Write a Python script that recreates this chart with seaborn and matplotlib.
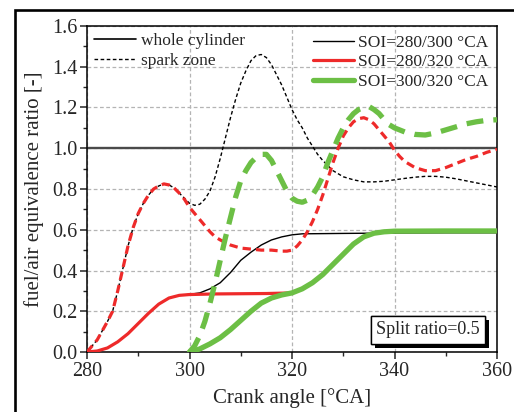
import pandas as pd
import matplotlib
matplotlib.use("Agg")
import matplotlib.pyplot as plt
import matplotlib.patheffects as pe
from matplotlib.lines import Line2D
from matplotlib.patches import Rectangle
from matplotlib.ticker import MultipleLocator, FormatStrFormatter
import seaborn as sns

# spark zone, SOI=280/300
ca_spark_a = [280, 282, 284, 285, 286, 287, 288, 289, 290, 291, 292, 293, 294, 295, 296, 297, 298, 299,
              300, 301, 302, 303, 304, 305, 306, 307, 308, 309, 310, 311, 312, 313, 314, 315, 316, 317,
              318, 319, 320, 321, 322, 323, 324, 325, 326, 327, 328, 330, 332, 334, 336, 338, 340, 342,
              344, 346, 348, 350, 352, 354, 356, 358, 360]
phi_spark_a = [0.0, 0.06, 0.15, 0.2, 0.3, 0.41, 0.52, 0.61, 0.68, 0.73, 0.77, 0.8, 0.815, 0.825, 0.82, 0.805, 0.78, 0.755,
               0.73, 0.72, 0.725, 0.75, 0.79, 0.86, 0.95, 1.05, 1.15, 1.24, 1.32, 1.38, 1.43, 1.455, 1.46, 1.445, 1.41, 1.36,
               1.31, 1.25, 1.19, 1.14, 1.1, 1.05, 1.01, 0.97, 0.94, 0.915, 0.89, 0.86, 0.845, 0.835, 0.835, 0.838, 0.845, 0.852,
               0.858, 0.862, 0.862, 0.858, 0.85, 0.84, 0.83, 0.82, 0.81]

# spark zone, SOI=280/320
ca_spark_b = [280, 282, 284, 285, 286, 287, 288, 289, 290, 291, 292, 293, 294, 295, 296, 297, 298, 299,
              300, 301, 302, 303, 304, 305, 306, 308, 310, 312, 314, 316, 318, 319, 320, 321, 322, 323,
              324, 325, 326, 327, 328, 329, 330, 331, 332, 333, 334, 335, 336, 337, 338, 339, 340, 341,
              342, 344, 346, 348, 350, 352, 354, 356, 358, 360]
phi_spark_b = [0.0, 0.06, 0.15, 0.2, 0.3, 0.41, 0.52, 0.61, 0.68, 0.73, 0.77, 0.8, 0.815, 0.825, 0.82, 0.805, 0.78, 0.75,
               0.71, 0.68, 0.65, 0.62, 0.59, 0.565, 0.55, 0.525, 0.51, 0.505, 0.5, 0.5, 0.495, 0.495, 0.5, 0.52, 0.55, 0.59,
               0.64, 0.7, 0.77, 0.85, 0.93, 1.0, 1.06, 1.1, 1.13, 1.145, 1.15, 1.14, 1.12, 1.09, 1.06, 1.03, 0.99, 0.96,
               0.935, 0.905, 0.89, 0.89, 0.905, 0.925, 0.945, 0.96, 0.98, 0.995]

# spark zone, SOI=300/320
ca_spark_c = [300, 301, 302, 303, 304, 305, 306, 307, 308, 309, 310, 311, 312, 313, 314, 315, 316, 317,
              318, 319, 320, 321, 322, 323, 324, 325, 326, 327, 328, 329, 330, 331, 332, 333, 334, 335,
              336, 337, 338, 339, 340, 342, 344, 346, 348, 350, 352, 354, 356, 358, 360]
phi_spark_c = [0.0, 0.03, 0.08, 0.15, 0.24, 0.34, 0.45, 0.56, 0.66, 0.76, 0.84, 0.89, 0.93, 0.955, 0.97, 0.97, 0.94, 0.89,
               0.84, 0.79, 0.755, 0.74, 0.735, 0.745, 0.77, 0.81, 0.86, 0.93, 0.99, 1.05, 1.1, 1.14, 1.17, 1.19, 1.2, 1.205,
               1.19, 1.17, 1.14, 1.115, 1.1, 1.08, 1.068, 1.065, 1.075, 1.09, 1.105, 1.12, 1.13, 1.137, 1.14]

# whole cylinder
ca_cyl_a = [280, 282, 284, 286, 288, 290, 292, 294, 296, 298, 300, 302, 304, 306, 308, 310, 312, 314,
            316, 318, 320, 322, 330, 340, 350, 360]
phi_cyl_a = [0.0, 0.005, 0.02, 0.05, 0.09, 0.14, 0.19, 0.235, 0.265, 0.278, 0.283, 0.29, 0.31, 0.34, 0.39, 0.45, 0.49, 0.525,
             0.55, 0.565, 0.575, 0.58, 0.582, 0.584, 0.585, 0.585]

ca_cyl_b = [280, 282, 284, 286, 288, 290, 292, 294, 296, 298, 300, 305, 310, 315, 320, 322, 324, 326,
            328, 330, 332, 334, 336, 338, 340, 350, 360]
phi_cyl_b = [0.0, 0.005, 0.02, 0.05, 0.09, 0.14, 0.19, 0.235, 0.265, 0.278, 0.282, 0.285, 0.286, 0.287, 0.29, 0.31, 0.34, 0.38,
             0.43, 0.48, 0.53, 0.565, 0.583, 0.59, 0.592, 0.593, 0.593]

ca_cyl_c = [300, 302, 304, 306, 308, 310, 312, 314, 316, 318, 320, 322, 324, 326, 328, 330, 332, 334,
            336, 338, 340, 350, 360]
phi_cyl_c = [0.0, 0.015, 0.04, 0.07, 0.11, 0.155, 0.2, 0.24, 0.265, 0.28, 0.29, 0.31, 0.34, 0.38, 0.43, 0.48, 0.53, 0.565,
             0.583, 0.59, 0.593, 0.594, 0.594]

soi_labels = ["SOI=280/300 \u00b0CA", "SOI=280/320 \u00b0CA", "SOI=300/320 \u00b0CA"]
colors = ["black", "#ee2a2a", "#6cbf45"]
widths = [1.0, 2.3, 3.8]


def main():
    sns.set_style("ticks")
    plt.rcParams["font.family"] = ["Liberation Serif", "DejaVu Serif"]

    fig = plt.figure(figsize=(5.14, 4.12), dpi=100)
    ax = fig.add_axes([87/514, 1-352/412, 410/514, 326/412])

    # reference line at phi = 1
    ax.axhline(1.0, color="#4a4a4a", lw=1.7, zorder=2)

    cyl = [(ca_cyl_a, phi_cyl_a), (ca_cyl_b, phi_cyl_b), (ca_cyl_c, phi_cyl_c)]
    spark = [(ca_spark_a, phi_spark_a), (ca_spark_b, phi_spark_b), (ca_spark_c, phi_spark_c)]
    dash_pat = [(2.6, 1.8), (2.6, 1.6), (3.2, 1.9)]

    for i in range(3):
        df = pd.DataFrame({"ca": cyl[i][0], "phi": cyl[i][1]})
        sns.lineplot(data=df, x="ca", y="phi", ax=ax, color=colors[i], lw=widths[i],
                     estimator=None, sort=False, zorder=3+i)
        df = pd.DataFrame({"ca": spark[i][0], "phi": spark[i][1]})
        sns.lineplot(data=df, x="ca", y="phi", ax=ax, color=colors[i], lw=widths[i],
                     estimator=None, sort=False, zorder=3+i)
        ax.lines[-1].set_dashes(dash_pat[i])

    ax.set_xlim(280, 360)
    ax.set_ylim(0, 1.6)
    ax.xaxis.set_major_locator(MultipleLocator(20))
    ax.xaxis.set_minor_locator(MultipleLocator(10))
    ax.yaxis.set_major_locator(MultipleLocator(0.2))
    ax.yaxis.set_minor_locator(MultipleLocator(0.1))
    ax.yaxis.set_major_formatter(FormatStrFormatter("%.1f"))
    ax.tick_params(which="major", direction="out", length=5, width=1.1, labelsize=14.5, pad=2)
    ax.tick_params(which="minor", direction="out", length=3, width=1.0)
    ax.set_axisbelow(True)
    ax.grid(True, which="major", color="#b4b4b4", linestyle=(0, (3, 2)), linewidth=0.9)
    for s in ax.spines.values():
        s.set_linewidth(1.1)
        s.set_color("black")

    ax.set_xlabel("Crank angle [\u00b0CA]", fontsize=15, labelpad=5)
    ax.set_ylabel("fuel/air equivalence ratio [-]", fontsize=15, labelpad=6)

    # legends
    h1 = [Line2D([], [], color="k", lw=1.2), Line2D([], [], color="k", lw=1.0, dashes=(2.6, 1.8))]
    leg1 = ax.legend(h1, ["whole cylinder", "spark zone"], loc="upper left", frameon=False,
                     fontsize=12.5, handlelength=2.4, handletextpad=0.3, labelspacing=0.2,
                     borderaxespad=0.2, borderpad=0.2)
    ax.add_artist(leg1)
    h2 = [Line2D([], [], color=colors[i], lw=widths[i]) for i in range(3)]
    ax.legend(h2, soi_labels, loc="upper right", frameon=False, fontsize=12.5,
              handlelength=2.4, handletextpad=0.2, labelspacing=0.2,
              borderaxespad=0.2, borderpad=0.3)

    # split ratio box with shadow
    t = ax.text(346.5, 0.11, "Split ratio=0.5", fontsize=13, ha="center", va="center",
                bbox=dict(boxstyle="square,pad=0.3", fc="white", ec="black", lw=1.0), zorder=10)
    t.get_bbox_patch().set_path_effects([pe.withSimplePatchShadow(offset=(3, -3), shadow_rgbFace="k", alpha=1.0), pe.Normal()])

    # outer frame of the figure
    fig.add_artist(Rectangle((15/514, -0.2), 1.5, 0.2 + 1 - 9.5/412, transform=fig.transFigure,
                             fill=False, lw=1.9, ec="black"))

    fig.savefig("out.png", dpi=100)
    plt.close(fig)


if __name__ == "__main__":
    main()
